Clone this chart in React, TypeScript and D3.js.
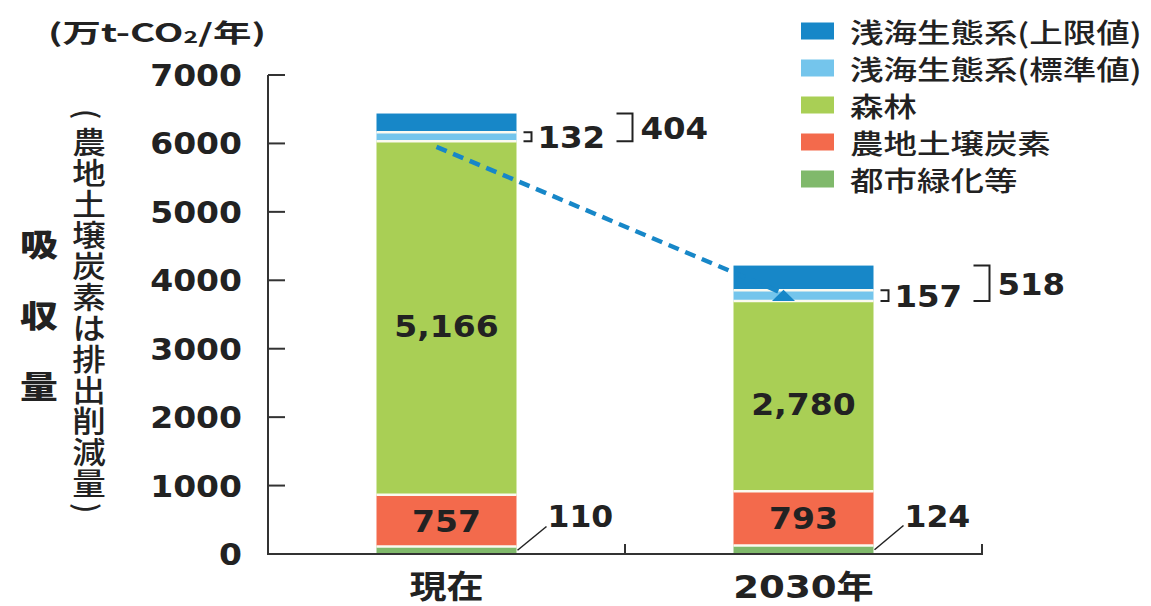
import React from "react";
import * as d3 from "d3";

const categories = ["現在", "2030年"];
const urbanGreening = [110, 124];
const farmlandSoil = [757, 793];
const forest = [5166, 2780];
const shallowSeaStandard = [132, 157];
const shallowSeaUpperTotal = [404, 518];
const yTickValues = [0, 1000, 2000, 3000, 4000, 5000, 6000, 7000];
const trendValues = [5950, 3860];
const legendNames = ["浅海生態系(上限値)", "浅海生態系(標準値)", "森林", "農地土壌炭素", "都市緑化等"];
const legendKeys = ["seaUp", "seaStd", "forest", "soil", "urban"];
const stackKeys = ["urban", "soil", "forest", "seaStd", "seaUp"];
const yTitleChars = ["吸", "収", "量"];
const ySubTitle = "農地土壌炭素は排出削減量";

const COLORS: Record<string, string> = {
  seaUp: "#1787c8",
  seaStd: "#74c5ec",
  forest: "#a9cf55",
  soil: "#f36a4c",
  urban: "#80b96b",
};

const NUM = "'DejaVu Sans', 'Noto Sans CJK JP', sans-serif";
const JP = "'Noto Sans CJK JP', sans-serif";
const INK = "#222";

function T(props: any) {
  const { x, y, sx = 1.12, rot = 0, anchor = "middle", size = 30, weight = 700, family = NUM, children, baseline = "central", fill = INK } = props;
  return (
    <text
      transform={`translate(${x},${y}) rotate(${rot}) scale(${sx},1)`}
      textAnchor={anchor}
      dominantBaseline={baseline}
      fontSize={size}
      fontWeight={weight}
      fontFamily={family}
      fill={fill}
    >
      {children}
    </text>
  );
}

export default function App() {
  const W = 1151;
  const H = 606;
  const rows = categories.map((c, i) => ({
    cat: c,
    urban: urbanGreening[i],
    soil: farmlandSoil[i],
    forest: forest[i],
    seaStd: shallowSeaStandard[i],
    seaUp: shallowSeaUpperTotal[i] - shallowSeaStandard[i],
  }));
  const series = d3.stack<any>().keys(stackKeys)(rows);
  const y = d3.scaleLinear().domain([0, 7000]).range([554, 75]);
  const x = d3.scalePoint<string>().domain(categories).range([268, 982]).padding(0.5);
  const barW = 140;
  const step = x.step();
  const [x0, x1] = x.range();

  const seg = (key: string, i: number) => {
    const s = series.find((d) => d.key === key)!;
    return s[i];
  };

  const trendX = [x(categories[0])! - 10, x(categories[1])! - barW / 2 + 50];
  const trendEndY = y(trendValues[1]);
  const triBaseY = y(seg("forest", 1)[1]);
  const triX = trendX[1];

  const subX = 89;
  const subTop = 127;
  const subPitch = 31;
  const subEnd = subTop + ySubTitle.length * subPitch;

  return (
    <svg width={W} height={H} style={{ position: "absolute", left: 0, top: 0, background: "#fff" }}>
      {/* unit label */}
      <text x={48} y={31} dominantBaseline="central" fontSize={25} fontWeight={700} fontFamily={JP} fill={INK} textLength={218} lengthAdjust="spacingAndGlyphs">
        (万t-CO<tspan fontSize={16} dy={5}>2</tspan><tspan dy={-5}>/年)</tspan>
      </text>

      {/* y title */}
      {yTitleChars.map((ch, i) => (
        <T key={ch} x={39} y={243 + i * 71} size={31} sx={1.22} weight={900} family={JP}>
          {ch}
        </T>
      ))}
      <T x={subX} y={subTop - 13} rot={90} sx={1} size={30} weight={500} family={JP}>
        (
      </T>
      <g transform={`translate(${subX},${subTop}) scale(1.12,1)`}>
        <text x={0} y={0} fontSize={30} fontWeight={500} fontFamily={JP} fill={INK} letterSpacing={1} style={{ writingMode: "vertical-rl" } as any}>
          {ySubTitle}
        </text>
      </g>
      <T x={subX} y={subEnd + 9} rot={90} sx={1} size={30} weight={500} family={JP}>
        )
      </T>

      {/* bars */}
      {categories.map((c, i) => {
        const cx = x(c)!;
        return (
          <g key={c}>
            {stackKeys.map((k) => {
              const d = seg(k, i);
              return <rect key={k} x={cx - barW / 2} y={y(d[1])} width={barW} height={y(d[0]) - y(d[1])} fill={COLORS[k]} />;
            })}
            {stackKeys.slice(0, -1).map((k) => {
              const d = seg(k, i);
              return <line key={"sep" + k} x1={cx - barW / 2} x2={cx + barW / 2} y1={y(d[1])} y2={y(d[1])} stroke="#fbfaf0" strokeWidth={2.5} />;
            })}
          </g>
        );
      })}

      {/* axes */}
      <line x1={x0} x2={x0} y1={y(7000)} y2={y(0)} stroke="#333" strokeWidth={2} />
      {yTickValues.map((v) => (
        <g key={v}>
          {v > 0 && <line x1={x0} x2={x0 + 17} y1={y(v)} y2={y(v)} stroke="#333" strokeWidth={2} />}
          <T x={242} y={y(v) + 11} anchor="end" baseline="alphabetic" size={30} sx={1.1}>
            {String(v)}
          </T>
        </g>
      ))}
      <line x1={x0 - 1} x2={x1 + 1} y1={y(0)} y2={y(0)} stroke="#333" strokeWidth={2} />
      {categories.map((c) => (
        <line key={"xt" + c} x1={x(c)! + step / 2} x2={x(c)! + step / 2} y1={y(0)} y2={y(0) - 10} stroke="#333" strokeWidth={2} />
      ))}
      {categories.map((c) => (
        <T key={"xl" + c} x={x(c)!} y={598} baseline="alphabetic" size={32} sx={1.16} weight={700}>
          {c}
        </T>
      ))}

      {/* trend line */}
      <line x1={trendX[0]} y1={y(trendValues[0])} x2={trendX[1] - 4} y2={trendEndY + 2} stroke="#1787c8" strokeWidth={4.5} strokeDasharray="11 7" />
      <path d={`M${triX},${trendEndY} L${triX + 11.5},${triBaseY} L${triX - 11.5},${triBaseY} Z`} fill="#1787c8" />

      {/* annotations */}
      {categories.map((c, i) => {
        const right = x(c)! + barW / 2;
        const fTop = y(seg("forest", i)[1]);
        const sTop = y(seg("seaStd", i)[1]);
        const top = y(seg("seaUp", i)[1]);
        const uTop = y(seg("urban", i)[1]);
        const forestMid = (y(seg("forest", i)[0]) + fTop) / 2;
        const soilMid = (y(seg("soil", i)[0]) + y(seg("soil", i)[1])) / 2;
        return (
          <g key={"ann" + c}>
            <path d={`M${right + 7},${sTop} H${right + 15} V${fTop} H${right + 7}`} fill="none" stroke={INK} strokeWidth={2} />
            <T x={right + 21} y={(sTop + fTop) / 2 + 11} anchor="start" baseline="alphabetic" size={30} sx={1.08}>
              {String(shallowSeaStandard[i])}
            </T>
            <path d={`M${right + 100},${top} H${right + 116} V${fTop} H${right + 100}`} fill="none" stroke={INK} strokeWidth={2} />
            <T x={right + 124} y={(top + fTop) / 2 + 12} anchor="start" baseline="alphabetic" size={30} sx={1.08}>
              {String(shallowSeaUpperTotal[i])}
            </T>
            <T x={x(c)!} y={forestMid + 8 + 11} baseline="alphabetic" size={30} sx={1.1}>
              {d3.format(",")(forest[i])}
            </T>
            <T x={x(c)!} y={soilMid + 11} baseline="alphabetic" size={30} sx={1.1}>
              {String(farmlandSoil[i])}
            </T>
            <line x1={right + 1} y1={(uTop + y(0)) / 2} x2={right + 30} y2={uTop - 20} stroke={INK} strokeWidth={1.5} />
            <T x={right + 31} y={uTop - 30 + 11} anchor="start" baseline="alphabetic" size={30} sx={1.05}>
              {String(urbanGreening[i])}
            </T>
          </g>
        );
      })}

      {/* legend */}
      {legendKeys.map((k, i) => (
        <g key={"lg" + k}>
          <rect x={801} y={31 + i * 37 - 8.5} width={33} height={17} fill={COLORS[k]} />
          <T x={850} y={31 + i * 37} anchor="start" size={27} sx={1.24} weight={500} family={JP}>
            {legendNames[i]}
          </T>
        </g>
      ))}
    </svg>
  );
}
